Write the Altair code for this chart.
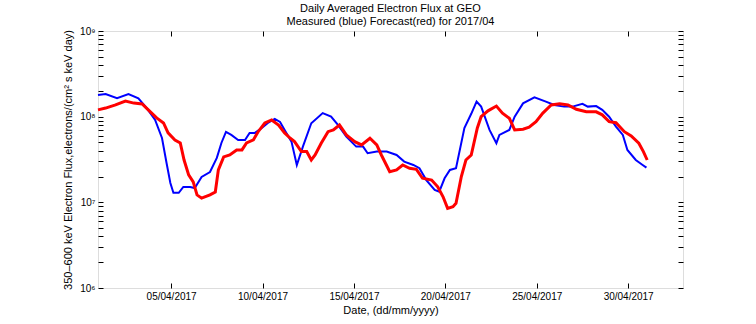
import altair as alt
import pandas as pd

# Measured (blue)
blue_dates = [
    "2017-04-01T00:00", "2017-04-01T10:00", "2017-04-02T01:00", "2017-04-02T16:00", "2017-04-03T05:00",
    "2017-04-03T16:00", "2017-04-04T03:00", "2017-04-04T12:00", "2017-04-04T18:00", "2017-04-04T23:00",
    "2017-04-05T03:00", "2017-04-05T10:00", "2017-04-05T16:00", "2017-04-06T01:00", "2017-04-06T07:00",
    "2017-04-06T16:00", "2017-04-07T03:00", "2017-04-07T12:00", "2017-04-07T18:00", "2017-04-08T00:00",
    "2017-04-08T07:00", "2017-04-08T16:00", "2017-04-09T01:00", "2017-04-09T07:00", "2017-04-09T14:00",
    "2017-04-09T23:00", "2017-04-10T07:00", "2017-04-10T16:00", "2017-04-10T23:00", "2017-04-11T05:00",
    "2017-04-11T14:00", "2017-04-11T21:00", "2017-04-12T05:00", "2017-04-12T16:00", "2017-04-13T07:00",
    "2017-04-13T18:00", "2017-04-14T03:00", "2017-04-14T14:00", "2017-04-15T03:00", "2017-04-15T12:00",
    "2017-04-15T18:00", "2017-04-16T06:00", "2017-04-16T19:00", "2017-04-17T08:00", "2017-04-17T18:00",
    "2017-04-18T06:00", "2017-04-18T14:00", "2017-04-18T23:00", "2017-04-19T10:00", "2017-04-19T16:00",
    "2017-04-19T23:00", "2017-04-20T06:00", "2017-04-20T14:00", "2017-04-21T01:00", "2017-04-21T10:00",
    "2017-04-21T17:00", "2017-04-21T23:00", "2017-04-22T10:00", "2017-04-22T19:00", "2017-04-22T23:00",
    "2017-04-23T12:00", "2017-04-23T19:00", "2017-04-24T06:00", "2017-04-24T21:00", "2017-04-25T12:00",
    "2017-04-25T23:00", "2017-04-26T12:00", "2017-04-26T23:00", "2017-04-27T12:00", "2017-04-27T19:00",
    "2017-04-28T06:00", "2017-04-28T14:00", "2017-04-28T23:00", "2017-04-29T08:00", "2017-04-29T17:00",
    "2017-04-29T23:00", "2017-04-30T10:00", "2017-04-30T19:00", "2017-05-01T00:00",
]
blue_flux = [
    1.79e8, 1.84e8, 1.64e8, 1.84e8, 1.64e8,
    1.26e8, 9.15e7, 5.64e7, 2.88e7, 1.68e7,
    1.29e7, 1.29e7, 1.51e7, 1.51e7, 1.47e7,
    1.98e7, 2.26e7, 3.30e7, 4.93e7, 6.63e7,
    6.12e7, 5.35e7, 5.35e7, 6.46e7, 6.46e7,
    7.38e7, 8.44e7, 9.40e7, 8.67e7, 7.00e7,
    5.11e7, 2.73e7, 4.47e7, 8.37e7, 1.10e8,
    1.00e8, 8.00e7, 5.84e7, 4.47e7, 4.47e7,
    3.74e7, 3.91e7, 3.91e7, 3.57e7, 2.99e7,
    2.73e7, 2.50e7, 1.82e7, 1.40e7, 1.33e7,
    1.91e7, 2.39e7, 2.50e7, 7.38e7, 1.08e8,
    1.50e8, 1.31e8, 7.00e7, 4.90e7, 6.12e7,
    7.00e7, 1.00e8, 1.43e8, 1.68e8, 1.50e8,
    1.37e8, 1.31e8, 1.31e8, 1.41e8, 1.31e8,
    1.33e8, 1.20e8, 1.00e8, 7.64e7, 6.12e7,
    4.09e7, 3.12e7, 2.73e7, 2.54e7,
]

# Forecast (red)
red_dates = [
    "2017-04-01T00:00", "2017-04-01T10:00", "2017-04-01T23:00", "2017-04-02T12:00", "2017-04-02T23:00",
    "2017-04-03T10:00", "2017-04-03T18:00", "2017-04-04T05:00", "2017-04-04T14:00", "2017-04-04T20:00",
    "2017-04-05T05:00", "2017-04-05T12:00", "2017-04-05T17:00", "2017-04-05T23:00", "2017-04-06T05:00",
    "2017-04-06T10:00", "2017-04-06T16:00", "2017-04-07T03:00", "2017-04-07T10:00", "2017-04-07T14:00",
    "2017-04-07T21:00", "2017-04-08T05:00", "2017-04-08T14:00", "2017-04-08T21:00", "2017-04-09T03:00",
    "2017-04-09T12:00", "2017-04-09T18:00", "2017-04-10T03:00", "2017-04-10T12:00", "2017-04-10T21:00",
    "2017-04-11T05:00", "2017-04-11T12:00", "2017-04-11T18:00", "2017-04-12T03:00", "2017-04-12T10:00",
    "2017-04-12T16:00", "2017-04-12T21:00", "2017-04-13T05:00", "2017-04-13T14:00", "2017-04-13T21:00",
    "2017-04-14T05:00", "2017-04-14T14:00", "2017-04-15T01:00", "2017-04-15T10:00", "2017-04-15T21:00",
    "2017-04-16T06:00", "2017-04-16T12:00", "2017-04-16T23:00", "2017-04-17T08:00", "2017-04-17T16:00",
    "2017-04-18T01:00", "2017-04-18T10:00", "2017-04-18T18:00", "2017-04-19T06:00", "2017-04-19T14:00",
    "2017-04-19T21:00", "2017-04-20T03:00", "2017-04-20T10:00", "2017-04-20T14:00", "2017-04-20T21:00",
    "2017-04-21T03:00", "2017-04-21T10:00", "2017-04-21T18:00", "2017-04-21T23:00", "2017-04-22T08:00",
    "2017-04-22T19:00", "2017-04-23T03:00", "2017-04-23T12:00", "2017-04-23T19:00", "2017-04-24T06:00",
    "2017-04-24T14:00", "2017-04-24T23:00", "2017-04-25T08:00", "2017-04-25T19:00", "2017-04-26T06:00",
    "2017-04-26T17:00", "2017-04-27T04:00", "2017-04-27T17:00", "2017-04-28T06:00", "2017-04-28T14:00",
    "2017-04-28T23:00", "2017-04-29T08:00", "2017-04-29T19:00", "2017-04-30T04:00", "2017-04-30T14:00",
    "2017-04-30T20:00", "2017-05-01T01:00",
]
red_flux = [
    1.20e8, 1.26e8, 1.37e8, 1.52e8, 1.44e8,
    1.41e8, 1.20e8, 9.66e7, 8.44e7, 6.46e7,
    5.35e7, 4.93e7, 3.12e7, 2.09e7, 1.73e7,
    1.22e7, 1.12e7, 1.22e7, 1.32e7, 2.39e7,
    3.39e7, 3.57e7, 4.09e7, 4.09e7, 4.93e7,
    5.35e7, 6.63e7, 8.44e7, 9.15e7, 8.00e7,
    6.46e7, 5.64e7, 5.11e7, 3.91e7, 3.91e7,
    3.12e7, 3.57e7, 4.90e7, 6.68e7, 7.00e7,
    8.00e7, 6.12e7, 5.11e7, 4.68e7, 5.60e7,
    4.68e7, 3.57e7, 2.28e7, 2.39e7, 2.73e7,
    2.50e7, 2.43e7, 1.91e7, 1.82e7, 1.52e7,
    1.16e7, 8.50e6, 8.90e6, 9.76e6, 2.00e7,
    3.12e7, 3.57e7, 7.38e7, 1.00e8, 1.17e8,
    1.33e8, 1.10e8, 9.58e7, 7.00e7, 7.13e7,
    7.52e7, 8.74e7, 1.10e8, 1.37e8, 1.41e8,
    1.37e8, 1.22e8, 1.14e8, 1.14e8, 1.05e8,
    8.74e7, 8.51e7, 6.68e7, 5.96e7, 4.90e7,
    3.91e7, 3.12e7,
]

y_ticks = [1e6, 2e6, 3e6, 4e6, 5e6, 6e6, 7e6, 8e6, 9e6,
           1e7, 2e7, 3e7, 4e7, 5e7, 6e7, 7e7, 8e7, 9e7,
           1e8, 2e8, 3e8, 4e8, 5e8, 6e8, 7e8, 8e8, 9e8, 1e9]
x_tick_days = [5, 10, 15, 20, 25, 30]

FONT = "Liberation Sans"

df_blue = pd.DataFrame({"date": blue_dates, "flux": blue_flux})
df_red = pd.DataFrame({"date": red_dates, "flux": red_flux})

x_domain = [alt.DateTime(year=2017, month=4, date=1), alt.DateTime(year=2017, month=5, date=3)]
x_vals = [alt.DateTime(year=2017, month=4, date=d) for d in x_tick_days]

label_expr = ("datum.value == 1000000 ? '10⁶' : datum.value == 10000000 ? '10⁷' : "
              "datum.value == 100000000 ? '10⁸' : datum.value == 1000000000 ? '10⁹' : ''")

common_axis = dict(domain=False, grid=False, tickColor="black", tickSize=5, tickWidth=1,
                   offset=-5, labelFont=FONT, labelFontSize=10, labelColor="black",
                   titleFont=FONT, titleFontSize=11, titleFontWeight="normal", titleColor="black")

x_bottom = alt.Axis(orient="bottom", values=x_vals, format="%d/%m/%Y", labelPadding=3,
                    title="Date, (dd/mm/yyyy)", titlePadding=3, **common_axis)
x_top = alt.Axis(orient="top", values=x_vals, labels=False, title=None, **common_axis)
y_left = alt.Axis(orient="left", values=y_ticks, labelExpr=label_expr, labelPadding=3,
                  labelOverlap=False,
                  title="350–600 keV Electron Flux,electrons/(cm² s keV day)", titlePadding=6,
                  **common_axis)
y_right = alt.Axis(orient="right", values=y_ticks, labels=False, title=None, **common_axis)

xs = alt.Scale(domain=x_domain, nice=False)
ys = alt.Scale(type="log", domain=[1e6, 1e9], nice=False)

blue = alt.Chart(df_blue).mark_line(color="#0000ff", strokeWidth=2).encode(
    x=alt.X("date:T", scale=xs, axis=x_bottom),
    y=alt.Y("flux:Q", scale=ys, axis=y_left),
)
red = alt.Chart(df_red).mark_line(color="#ff0000", strokeWidth=3).encode(
    x=alt.X("date:T", scale=xs, axis=x_top),
    y=alt.Y("flux:Q", scale=ys, axis=y_right),
)

chart = alt.layer(blue, red).resolve_axis(x="independent", y="independent").properties(
    width=585, height=257,
    autosize=alt.AutoSizeParams(type="none"),
    padding={"left": 98, "top": 31, "right": 73, "bottom": 36},
    title=alt.TitleParams(
        text=["Daily Averaged Electron Flux at GEO", "Measured (blue) Forecast(red) for 2017/04"],
        font=FONT, fontSize=11, fontWeight="normal", color="black",
        anchor="middle", lineHeight=13, offset=-1,
    ),
).configure_view(stroke="black", strokeWidth=1).configure(background="white")

chart.save("out.html", embed_options={"renderer": "svg", "actions": False})
